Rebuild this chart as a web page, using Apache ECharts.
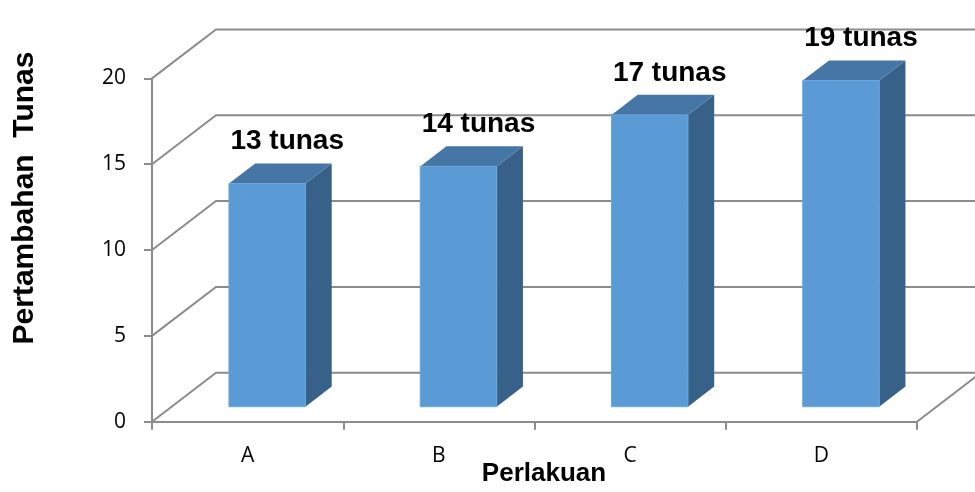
<!DOCTYPE html>
<html>
<head>
<meta charset="utf-8">
<script src="https://cdn.jsdelivr.net/npm/echarts@6/dist/echarts.min.js"></script>
<style>
  html, body { margin: 0; padding: 0; background: #fff; }
  #chart { width: 975px; height: 492px; }
</style>
</head>
<body>
<div id="chart"></div>
<script>
// Treatments and shoot increase per treatment
const categories = ['A', 'B', 'C', 'D'];
const shootValues = [13, 14, 17, 19];
const yTicks = [0, 5, 10, 15, 20];
const unitLabel = 'tunas';

// Pseudo-3D depth: offset of the back wall relative to the front plane
const DEPTH_DX = 64;
const DEPTH_DY = -49;
const BAR_FRONT = 0.306;   // fraction of depth where the bar's front face sits
const BAR_DEPTH = 0.41;    // fraction of depth taken by the bar
const GRID_COLOR = '#8c8c8c';

const chart = echarts.init(document.getElementById('chart'), null, { renderer: 'canvas' });

// Back wall + side wall gridlines (one polyline per y tick)
function renderWall(params, api) {
  const cs = params.coordSys;
  const v = api.value(1);
  const y = api.coord([0, v])[1];
  const x0 = cs.x;
  const x1 = cs.x + cs.width;
  const children = [{
    type: 'polyline',
    shape: { points: [[x0, y], [x0 + DEPTH_DX, y + DEPTH_DY], [x1 + DEPTH_DX + 40, y + DEPTH_DY]] },
    style: { stroke: GRID_COLOR, lineWidth: 2, fill: null }
  }];
  if (v === 0) {
    // right edge of the floor
    children.push({
      type: 'line',
      shape: { x1: x1, y1: y, x2: x1 + DEPTH_DX, y2: y + DEPTH_DY },
      style: { stroke: GRID_COLOR, lineWidth: 2 }
    });
  }
  return { type: 'group', children: children };
}

// 3D column: front face, right side face, top face and a value label
function renderColumn(params, api) {
  const idx = api.value(0);
  const val = api.value(1);
  const base = api.coord([idx, 0]);
  const top = api.coord([idx, val]);
  const w = api.size([1, 0])[0] * 0.4;
  const ox = BAR_FRONT * DEPTH_DX, oy = BAR_FRONT * DEPTH_DY;
  const dx = BAR_DEPTH * DEPTH_DX, dy = BAR_DEPTH * DEPTH_DY;
  const fx = base[0] - w / 2 + ox;
  const yb = base[1] + oy;
  const yt = top[1] + oy;
  return {
    type: 'group',
    children: [
      {
        type: 'polygon',
        shape: { points: [[fx + w, yt], [fx + w + dx, yt + dy], [fx + w + dx, yb + dy], [fx + w, yb]] },
        style: { fill: '#386189' }
      },
      {
        type: 'polygon',
        shape: { points: [[fx, yt], [fx + dx, yt + dy], [fx + w + dx, yt + dy], [fx + w, yt]] },
        style: { fill: '#4676a5' }
      },
      {
        type: 'rect',
        shape: { x: fx, y: yt, width: w, height: yb - yt },
        style: { fill: '#5b9bd5', stroke: '#6aa6dc', lineWidth: 1 }
      },
      {
        type: 'text',
        x: fx + w / 2 + 20,
        y: yt - 42,
        style: {
          text: val + ' ' + unitLabel,
          font: 'bold 28px "Liberation Sans", Arial, sans-serif',
          fill: '#000',
          align: 'center',
          verticalAlign: 'middle',
          textAlign: 'center',
          textVerticalAlign: 'middle'
        }
      }
    ]
  };
}

chart.setOption({
  animation: false,
  backgroundColor: '#ffffff',
  grid: { left: 152, right: 58, top: 78.4, bottom: 70.3, containLabel: false },
  xAxis: {
    type: 'category',
    data: categories,
    boundaryGap: true,
    axisLine: { show: true, lineStyle: { color: GRID_COLOR, width: 2 } },
    axisTick: { show: true, length: 8, alignWithLabel: false, lineStyle: { color: GRID_COLOR, width: 2 } },
    axisLabel: { margin: 24, color: '#000', fontSize: 21, fontFamily: '"Open Sans", sans-serif' },
    splitLine: { show: false }
  },
  yAxis: {
    type: 'value',
    min: 0,
    max: 20,
    interval: 5,
    axisLine: { show: true, lineStyle: { color: GRID_COLOR, width: 2 } },
    axisTick: { show: true, length: 8, lineStyle: { color: GRID_COLOR, width: 2 } },
    axisLabel: { margin: 26, color: '#000', fontSize: 21, fontFamily: '"Open Sans", sans-serif' },
    splitLine: { show: false }
  },
  graphic: [
    {
      type: 'text',
      x: 544,
      y: 474,
      style: {
        text: 'Perlakuan',
        font: 'bold 26px "Liberation Sans", Arial, sans-serif',
        fill: '#000',
        align: 'center', verticalAlign: 'middle',
        textAlign: 'center', textVerticalAlign: 'middle'
      }
    },
    {
      type: 'text',
      x: 25,
      y: 198,
      rotation: Math.PI / 2,
      style: {
        text: 'Pertambahan  Tunas',
        font: 'bold 30px "Liberation Sans", Arial, sans-serif',
        fill: '#000',
        align: 'center', verticalAlign: 'middle',
        textAlign: 'center', textVerticalAlign: 'middle'
      }
    }
  ],
  series: [
    {
      type: 'custom',
      name: 'wall',
      coordinateSystem: 'cartesian2d',
      clip: false,
      silent: true,
      z: 1,
      renderItem: renderWall,
      data: yTicks.map(function (v) { return [0, v]; })
    },
    {
      type: 'custom',
      name: 'Pertambahan Tunas',
      coordinateSystem: 'cartesian2d',
      clip: false,
      z: 3,
      renderItem: renderColumn,
      data: shootValues.map(function (v, i) { return [i, v]; })
    }
  ]
});
</script>
</body>
</html>
